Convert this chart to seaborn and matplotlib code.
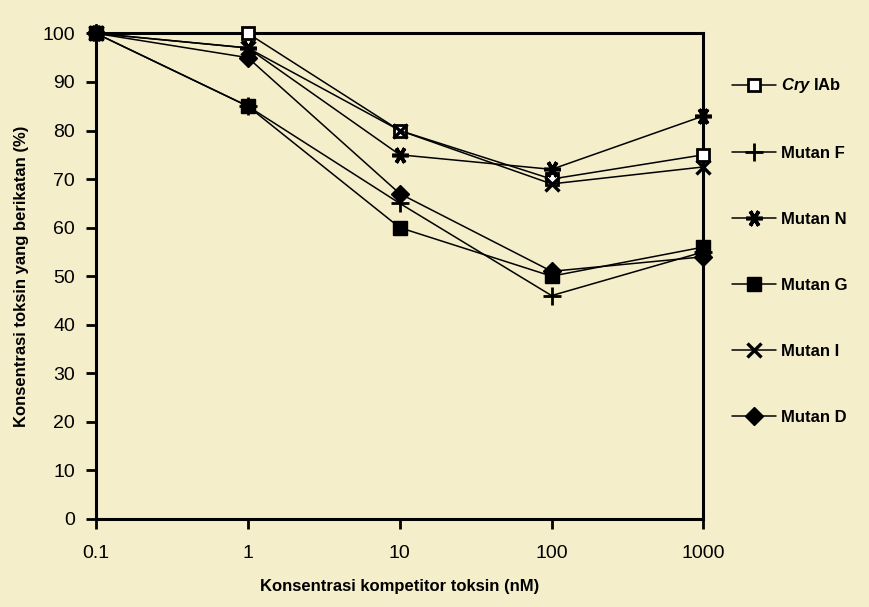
import pandas as pd
import matplotlib.pyplot as plt
import seaborn as sns
import numpy as np

# Data
konsentrasi = [0.1, 1, 10, 100, 1000]
cry_iab = [100, 100, 80, 70, 75]
mutan_f = [100, 85, 65, 46, 55]
mutan_n = [100, 97, 75, 72, 83]
mutan_g = [100, 85, 60, 50, 56]
mutan_i = [100, 97, 80, 69, 72.5]
mutan_d = [100, 95, 67, 51, 54]

labels = [r'$\it{Cry}$ IAb', 'Mutan F', 'Mutan N', 'Mutan G', 'Mutan I', 'Mutan D']
series = [cry_iab, mutan_f, mutan_n, mutan_g, mutan_i, mutan_d]

sns.set_theme(style="ticks")
plt.rcParams['font.family'] = ['Liberation Sans', 'DejaVu Sans']
plt.rcParams['mathtext.fontset'] = 'custom'
plt.rcParams['mathtext.it'] = 'Liberation Sans:italic:bold'
plt.rcParams['mathtext.rm'] = 'Liberation Sans:bold'
plt.rcParams['text.color'] = 'black'
plt.rcParams['axes.labelcolor'] = 'black'

paper = '#f4eecb'
fig = plt.figure(figsize=(8.69, 6.07), dpi=100, facecolor=paper)
ax = fig.add_axes([0.1105, 0.145, 0.699, 0.800], facecolor=paper)

df = pd.DataFrame({
    'x': np.tile(konsentrasi, len(labels)),
    'y': np.concatenate(series),
    'seri': np.repeat(labels, len(konsentrasi)),
})

# marker per seri
gaya = {
    labels[0]: dict(marker='s', mfc='white', ms=9, mew=2.0),
    labels[1]: dict(marker='+', mfc='black', ms=13, mew=2.0),
    labels[2]: dict(marker=(6, 2, 90), mfc='black', ms=12, mew=2.6),
    labels[3]: dict(marker='s', mfc='black', ms=10, mew=1.0),
    labels[4]: dict(marker='x', mfc='black', ms=10, mew=2.4),
    labels[5]: dict(marker='D', mfc='black', ms=9, mew=1.0),
}

for lab in labels:
    d = df[df['seri'] == lab]
    g = gaya[lab]
    sns.lineplot(data=d, x='x', y='y', ax=ax, color='black', linewidth=1.1,
                 marker=g['marker'], markersize=g['ms'], markerfacecolor=g['mfc'],
                 markeredgecolor='black', markeredgewidth=g['mew'], label=lab,
                 clip_on=False, zorder=3)

ax.set_xscale('log')
ax.set_xlim(0.1, 1000)
ax.set_ylim(0, 100)
ax.set_xticks(konsentrasi)
ax.set_xticklabels(['0.1', '1', '10', '100', '1000'])
ax.set_yticks(range(0, 101, 10))
ax.minorticks_off()
ax.tick_params(axis='both', direction='out', length=7, width=2, labelsize=14,
               colors='black', pad=8)
ax.tick_params(axis='x', pad=12)
for s in ax.spines.values():
    s.set_linewidth(2.2)
    s.set_color('black')

ax.set_xlabel('Konsentrasi kompetitor toksin (nM)', fontsize=12, fontweight='bold', labelpad=12)
ax.set_ylabel('Konsentrasi toksin yang berikatan (%)', fontsize=12, fontweight='bold', labelpad=10)

handles, labs = ax.get_legend_handles_labels()
ax.get_legend().remove()
leg = fig.legend(handles, labs, loc='upper left', bbox_to_anchor=(0.835, 0.885),
                 frameon=False, fontsize=12, labelspacing=3.05, handlelength=2.6,
                 handletextpad=0.3, borderaxespad=0)
for t in leg.get_texts():
    t.set_fontweight('bold')

fig.savefig('out.png', dpi=100, facecolor=paper)
